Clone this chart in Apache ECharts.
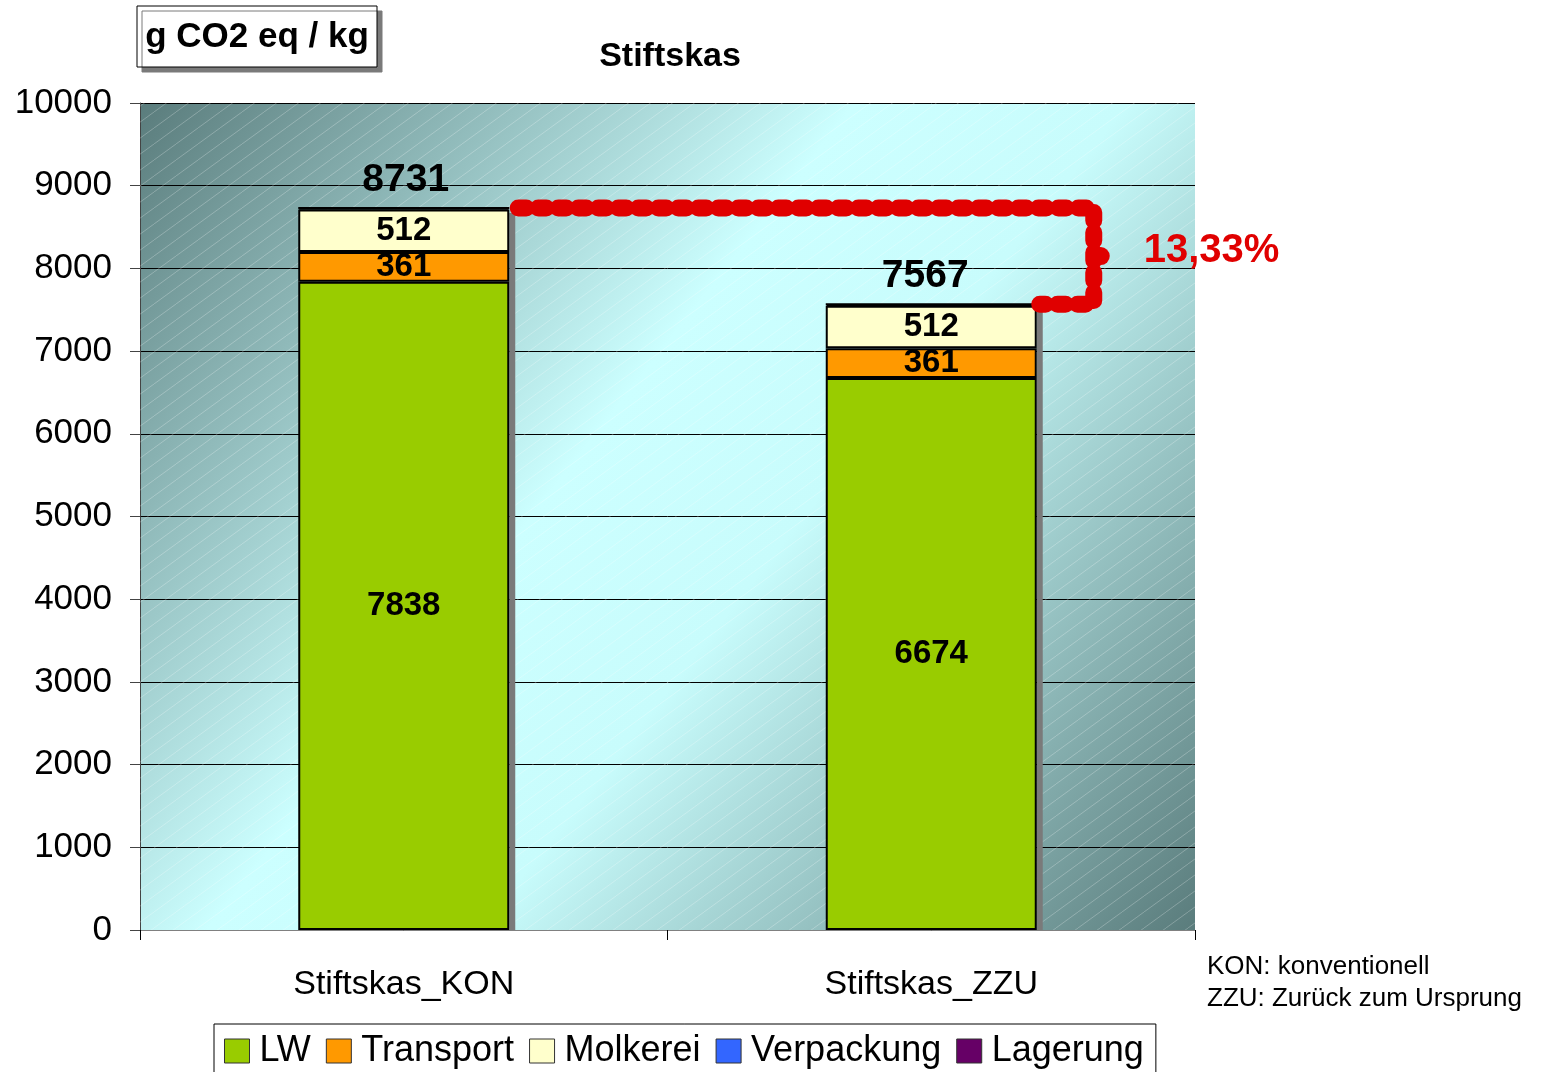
<!DOCTYPE html>
<html>
<head>
<meta charset="utf-8">
<script src="https://cdn.jsdelivr.net/npm/echarts@6/dist/echarts.min.js"></script>
<style>
  html, body { margin: 0; padding: 0; background: #fff; }
  #chart { width: 1549px; height: 1072px; }
</style>
</head>
<body>
<div id="chart"></div>
<script>
// ---- data ----
const categories = ['Stiftskas_KON', 'Stiftskas_ZZU'];
const lw = [7838, 6674];
const transport = [361, 361];
const molkerei = [512, 512];
const verpackung = [20, 20];
const lagerung = [0, 0];
const yTicks = [0, 1000, 2000, 3000, 4000, 5000, 6000, 7000, 8000, 9000, 10000];

const totals = categories.map((c, i) => lw[i] + transport[i] + molkerei[i] + verpackung[i] + lagerung[i]);
const reduction = (totals[0] - totals[1]) / totals[0] * 100;

const FONT = '"Liberation Sans", Arial, sans-serif';
const BAR_RATIO = 0.4;
const chart = echarts.init(document.getElementById('chart'));

// hatching pattern for the plot background
function makeHatch() {
  const c = document.createElement('canvas');
  c.width = 22; c.height = 16;
  const ctx = c.getContext('2d');
  ctx.strokeStyle = 'rgba(255,255,255,0.25)';
  ctx.lineWidth = 1;
  ctx.beginPath();
  ctx.moveTo(-2, 17.45); ctx.lineTo(24, -1.45);
  ctx.stroke();
  return c;
}

function segLabel(size) {
  return {
    show: true,
    position: 'inside',
    color: '#000',
    fontFamily: FONT,
    fontWeight: 'bold',
    fontSize: size
  };
}

function bar(name, data, color, label) {
  return {
    name,
    type: 'bar',
    stack: 'total',
    barWidth: BAR_RATIO * 100 + '%',
    data,
    itemStyle: { color, borderColor: '#000', borderWidth: 2 },
    label: label || { show: false },
    emphasis: { disabled: true },
    z: 3
  };
}

// ==============================
// bar shadows (behind the stacks)
// ==============================
function renderShadow(params, api) {
  const idx = api.value(0);
  const p = api.coord([idx, api.value(1)]);
  const base = api.coord([idx, 0]);
  const bw = api.size([1, 0])[0] * BAR_RATIO;
  return {
    type: 'rect',
    shape: { x: p[0] + bw / 2, y: p[1] + 5, width: 6, height: base[1] - p[1] - 5 },
    style: { fill: '#7a7a7a' }
  };
}

// ==============================
// total labels + reduction bracket
// ==============================
function renderBracket(params, api) {
  const idx = api.value(0);
  const total = api.value(1);
  const p = api.coord([idx, total]);
  const bw = api.size([1, 0])[0] * BAR_RATIO;

  const children = [{
    type: 'text',
    style: {
      text: String(total),
      x: p[0] + (idx === 0 ? 2 : -6),
      y: p[1] - 8,
      align: 'center',
      verticalAlign: 'bottom',
      font: 'bold 39px ' + FONT,
      fill: '#000'
    }
  }];

  if (params.dataIndex === 0) {
    const q = api.coord([1, totals[1]]);
    const xb = q[0] + bw / 2 + 57;
    const midY = (p[1] + q[1]) / 2;
    children.push({
      type: 'polyline',
      shape: { points: [[p[0] + bw / 2 + 9, p[1]], [xb, p[1]], [xb, q[1]], [q[0] + bw / 2 + 3, q[1]]] },
      style: {
        fill: null,
        stroke: '#e00000',
        lineWidth: 17,
        lineDash: [8, 12],
        lineCap: 'round',
        lineJoin: 'round'
      }
    });
    children.push({
      type: 'circle',
      shape: { cx: xb + 7, cy: midY, r: 9 },
      style: { fill: '#e00000' }
    });
    children.push({
      type: 'text',
      style: {
        text: reduction.toFixed(2).replace('.', ',') + '%',
        x: xb + 50,
        y: midY - 5,
        align: 'left',
        verticalAlign: 'middle',
        font: 'bold 40px ' + FONT,
        fill: '#e00000'
      }
    });
  }
  return { type: 'group', children };
}

chart.setOption({
  animation: false,
  title: {
    text: 'Stiftskas',
    left: 665,
    top: 35,
    textAlign: 'center',
    textStyle: { fontFamily: FONT, fontWeight: 'bold', fontSize: 34, color: '#000' }
  },
  legend: {
    left: 214,
    top: 1024,
    orient: 'horizontal',
    padding: [9, 12, 12, 10],
    borderColor: '#000',
    borderWidth: 1,
    itemWidth: 25,
    itemHeight: 24,
    itemGap: 15,
    icon: 'rect',
    itemStyle: { borderWidth: 1, borderColor: '#333' },
    textStyle: { fontFamily: FONT, fontSize: 36, color: '#000', padding: [0, 0, 0, 5] },
    data: ['LW', 'Transport', 'Molkerei', 'Verpackung', 'Lagerung']
  },
  grid: {
    left: 140,
    top: 103,
    width: 1055,
    height: 827,
    show: true,
    borderWidth: 0,
    backgroundColor: new echarts.graphic.LinearGradient(0, 0, 1, 1, [
      { offset: 0, color: '#5a7c7c' },
      { offset: 0.42, color: '#ccffff' },
      { offset: 0.58, color: '#c8fcfc' },
      { offset: 1, color: '#5a7c7c' }
    ])
  },
  xAxis: {
    type: 'category',
    data: categories,
    axisLine: { lineStyle: { color: '#808080', width: 1 } },
    axisTick: { show: true, length: 10, lineStyle: { color: '#000' } },
    axisLabel: { fontFamily: FONT, fontSize: 34, color: '#000', margin: 38 },
    splitLine: { show: false }
  },
  yAxis: {
    type: 'value',
    min: yTicks[0],
    max: yTicks[yTicks.length - 1],
    interval: 1000,
    axisLine: { show: true, lineStyle: { color: '#444', width: 1 } },
    axisTick: { show: true, length: 10, lineStyle: { color: '#444' } },
    axisLabel: {
      fontFamily: FONT, fontSize: 35, color: '#000', margin: 28,
      padding: [4, 0, 0, 0],
      formatter: v => String(v)
    },
    splitLine: { show: true, lineStyle: { color: '#000', width: 1 } }
  },
  graphic: [
    {
      type: 'rect',
      z: 1,
      silent: true,
      shape: { x: 140, y: 103, width: 1055, height: 827 },
      style: { fill: { image: makeHatch(), repeat: 'repeat' } }
    },
    {
      type: 'rect',
      shape: { x: 137, y: 6, width: 240, height: 61 },
      style: {
        fill: '#fff', stroke: '#000', lineWidth: 1,
        shadowColor: '#7a7a7a', shadowOffsetX: 5, shadowOffsetY: 5, shadowBlur: 0
      }
    },
    {
      type: 'text',
      style: {
        text: 'g CO2 eq / kg',
        x: 257, y: 37,
        align: 'center', verticalAlign: 'middle',
        font: 'bold 35px ' + FONT, fill: '#000'
      }
    },
    {
      type: 'text',
      style: {
        text: 'KON: konventionell\nZZU: Zurück zum Ursprung',
        x: 1207, y: 951,
        lineHeight: 32,
        font: '26px ' + FONT, fill: '#000'
      }
    }
  ],
  series: [
    {
      type: 'custom',
      name: 'shadow',
      z: 2,
      silent: true,
      renderItem: renderShadow,
      data: totals.map((t, i) => [i, t])
    },
    bar('LW', lw, '#99cc00', segLabel(33)),
    bar('Transport', transport, '#ff9900', segLabel(33)),
    bar('Molkerei', molkerei, '#ffffcc', segLabel(33)),
    bar('Verpackung', verpackung, '#3366ff'),
    bar('Lagerung', lagerung, '#660066'),
    {
      type: 'custom',
      name: 'totals',
      clip: false,
      z: 10,
      silent: true,
      renderItem: renderBracket,
      data: totals.map((t, i) => [i, t])
    }
  ]
});
</script>
</body>
</html>
